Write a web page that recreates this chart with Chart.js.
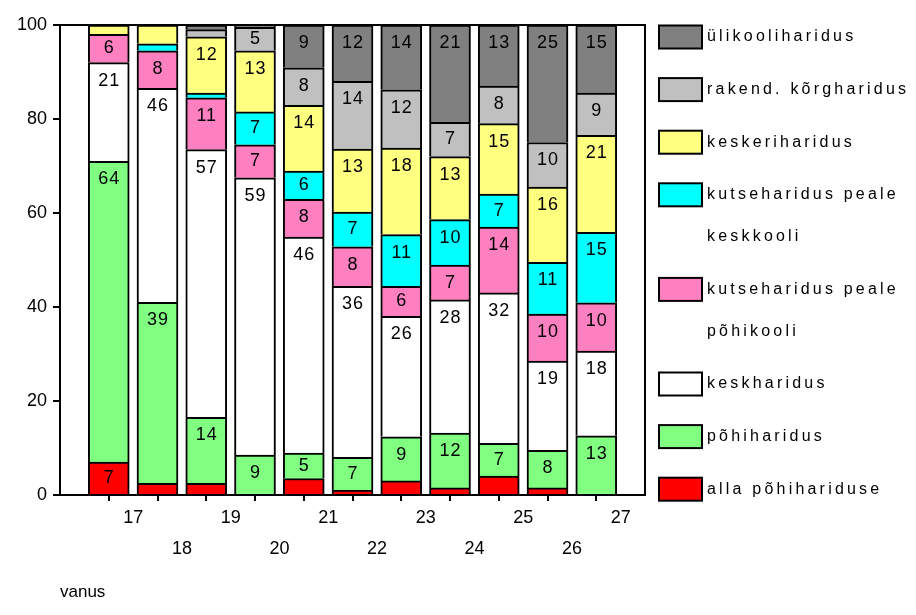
<!DOCTYPE html>
<html>
<head>
<meta charset="utf-8">
<script src="https://cdn.jsdelivr.net/npm/chart.js@4"></script>
<style>
  html, body { margin: 0; padding: 0; background: #fff; }
  #wrap { width: 916px; height: 615px; }
</style>
</head>
<body>
<div id="wrap"><canvas id="chart" width="916" height="615"></canvas></div>
<script>
const FONT = '"Liberation Sans", Arial, sans-serif';

// ages (vanus)
const ages = [17, 18, 19, 20, 21, 22, 23, 24, 25, 26, 27];

// shares by education level, bottom to top
const allaPohi   = [7, 2.5, 2.5, 0, 3.5, 1, 3, 1.5, 4, 1.5, 0];
const pohi       = [64, 38.5, 14, 8.5, 5.4, 7, 9.4, 11.7, 7, 8, 12.6];
const kesk       = [21, 45.5, 57, 59, 46, 36.4, 25.6, 28.3, 32, 19, 18];
const kutsePohi  = [6, 8, 11, 7, 8, 8.4, 6.4, 7.4, 14, 10, 10.3];
const kutseKesk  = [0, 1.5, 1, 7, 6, 7.4, 11, 9.7, 7, 11, 15];
const keskeri    = [2, 4, 12, 13, 14, 13.4, 18.4, 13.4, 15, 16, 20.6];
const rakend     = [0, 0, 1.5, 5, 8, 14.4, 12.4, 7.3, 8, 9.5, 9];
const ulikool    = [0, 0, 1, 0.5, 9.1, 12, 13.8, 20.7, 13, 25, 14.5];

const seriesNames = ['alla põhihariduse', 'põhiharidus', 'keskharidus', 'kutseharidus peale põhikooli',
  'kutseharidus peale keskkooli', 'keskeriharidus', 'rakend. kõrgharidus', 'ülikooliharidus'];
const seriesValues = [allaPohi, pohi, kesk, kutsePohi, kutseKesk, keskeri, rakend, ulikool];
const colors = ['#FF0000', '#80FF80', '#FFFFFF', '#FF80C0', '#00FFFF', '#FFFF80', '#C0C0C0', '#808080'];

const yTicks = [0, 20, 40, 60, 80, 100];

const datasets = seriesNames.map((name, k) => ({
  label: name,
  data: ages.map((a, i) => ({ x: a, y: seriesValues[k][i] })),
  backgroundColor: colors[k],
  borderColor: '#000',
  borderWidth: { top: 2, left: 2, right: 2, bottom: 0 },
  borderSkipped: false,
  barThickness: 41
}));

// value labels near the top of each segment
const valueLabels = {
  id: 'valueLabels',
  afterDatasetsDraw(chart) {
    const ctx = chart.ctx;
    ctx.save();
    ctx.font = '18px ' + FONT;
    ctx.letterSpacing = '1px';
    ctx.fillStyle = '#000';
    ctx.textAlign = 'center';
    ctx.textBaseline = 'middle';
    chart.data.datasets.forEach((ds, k) => {
      chart.getDatasetMeta(k).data.forEach((bar, i) => {
        const v = ds.data[i].y;
        if (v < 4.5) return;
        const h = bar.base - bar.y;
        ctx.fillText(String(Math.round(v)), bar.x + 0.5, bar.y + Math.min(h / 2, 18));
      });
    });
    ctx.restore();
  }
};

// plot frame + legend on the right
const frameAndLegend = {
  id: 'frameAndLegend',
  afterDraw(chart) {
    const ctx = chart.ctx;
    const a = chart.chartArea;
    ctx.save();
    ctx.strokeStyle = '#000';
    ctx.lineWidth = 2;
    ctx.strokeRect(a.left, a.top, a.right - a.left, a.bottom - a.top);

    ctx.font = '16px ' + FONT;
    ctx.letterSpacing = '3.2px';
    ctx.textBaseline = 'middle';
    ctx.textAlign = 'left';
    const boxX = 659, boxW = 43, boxH = 23, textX = 707, maxW = 215;
    let y = 37;
    const items = chart.data.datasets.slice().reverse();
    items.forEach(ds => {
      ctx.fillStyle = ds.backgroundColor;
      ctx.fillRect(boxX, y - boxH / 2, boxW, boxH);
      ctx.lineWidth = 2;
      ctx.strokeStyle = '#000';
      ctx.strokeRect(boxX, y - boxH / 2, boxW, boxH);
      // simple word wrap
      const words = ds.label.split(' ');
      const lines = [];
      let line = '';
      words.forEach(w => {
        const test = line ? line + ' ' + w : w;
        if (line && ctx.measureText(test).width > maxW) { lines.push(line); line = w; }
        else line = test;
      });
      lines.push(line);
      ctx.fillStyle = '#000';
      lines.forEach((l, j) => ctx.fillText(l, textX, y + j * 42));
      y += 52.6 + (lines.length - 1) * 42;
    });
    ctx.restore();
  }
};

new Chart(document.getElementById('chart'), {
  type: 'bar',
  data: { datasets },
  options: {
    responsive: false,
    animation: false,
    layout: { padding: { left: 0, right: 271, top: 25, bottom: 0 } },
    plugins: { legend: { display: false }, tooltip: { enabled: false } },
    scales: {
      x: {
        type: 'linear',
        stacked: true,
        offset: false,
        min: 16,
        max: 28,
        afterFit(scale) { scale.height = 120; },
        afterBuildTicks(scale) {
          scale.ticks = [];
          for (let v = 16; v <= 28; v++) scale.ticks.push({ value: v });
        },
        border: { display: true, color: '#000', width: 2 },
        grid: {
          offset: false,
          drawOnChartArea: false,
          drawTicks: true,
          tickLength: 6,
          lineWidth: 2,
          color: c => (c.tick && (c.tick.value === 16 || c.tick.value === 28)) ? 'rgba(0,0,0,0)' : '#000'
        },
        ticks: {
          autoSkip: false,
          maxRotation: 0,
          minRotation: 0,
          padding: 2,
          labelOffset: 24.4,
          color: '#000',
          font: { family: FONT, size: 18, lineHeight: 1.72 },
          callback: v => {
            if (v < 17 || v > 27) return '';
            return v % 2 === 1 ? [String(v), ''] : ['', String(v)];
          }
        },
        title: {
          display: true,
          text: 'vanus',
          align: 'start',
          color: '#000',
          font: { family: FONT, size: 17 },
          padding: { top: 0, bottom: 12 }
        }
      },
      y: {
        stacked: true,
        min: 0,
        max: 100,
        afterFit(scale) { scale.width = 60; },
        afterBuildTicks(scale) { scale.ticks = yTicks.map(v => ({ value: v })); },
        border: { display: true, color: '#000', width: 2 },
        grid: { drawOnChartArea: false, drawTicks: true, tickLength: 7, lineWidth: 2, color: '#000' },
        ticks: {
          padding: 6,
          color: '#000',
          font: { family: FONT, size: 18 }
        }
      }
    }
  },
  plugins: [valueLabels, frameAndLegend]
});
</script>
</body>
</html>
